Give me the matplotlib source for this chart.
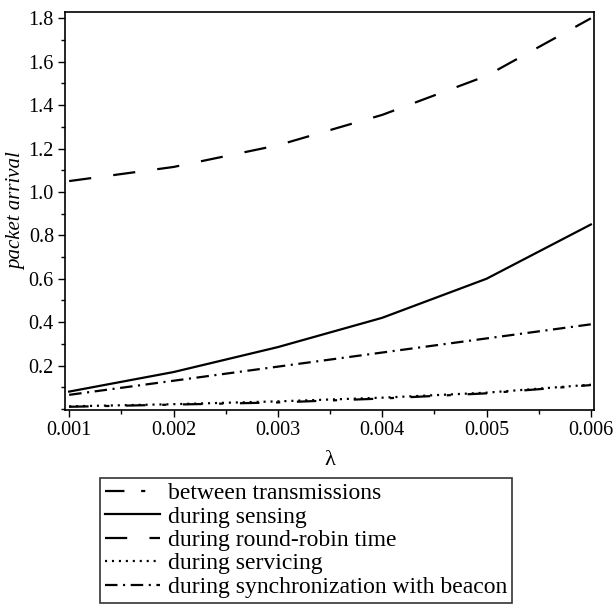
import matplotlib.pyplot as plt
from matplotlib.ticker import MultipleLocator

plt.rcParams['font.family'] = ['Liberation Serif', 'DejaVu Serif']
plt.rcParams['lines.scale_dashes'] = False

# arrival rate
lam = [0.001, 0.002, 0.003, 0.004, 0.005, 0.006]

# packet arrival for each period
between_tx = [0.010, 0.020, 0.030, 0.048, 0.072, 0.110]
sensing = [0.080, 0.170, 0.285, 0.420, 0.600, 0.850]
round_robin = [1.050, 1.115, 1.215, 1.355, 1.535, 1.800]
servicing = [0.012, 0.022, 0.035, 0.052, 0.075, 0.112]
sync_beacon = [0.065, 0.130, 0.195, 0.260, 0.325, 0.390]

labels = ['between transmissions', 'during sensing', 'during round-robin time',
          'during servicing', 'during synchronization with beacon']

fig = plt.figure(figsize=(6.16, 6.12), dpi=100)
ax = fig.add_axes([0.1055, 0.330, 0.8588, 0.650])

lw = 1.6
ax.plot(lam, between_tx, color='black', lw=lw, dashes=[14, 12, 3, 12], label=labels[0])
ax.plot(lam, sensing, color='black', lw=lw, label=labels[1])
ax.plot(lam, round_robin, color='black', lw=lw, dashes=[16, 16], label=labels[2])
ax.plot(lam, servicing, color='black', lw=lw, dashes=[1.5, 3.5], label=labels[3])
ax.plot(lam, sync_beacon, color='black', lw=lw, dashes=[9, 4, 1.5, 4], label=labels[4])

ax.set_xlim(0.00096, 0.00603)
ax.set_ylim(-0.005, 1.828)
ax.set_xticks(lam)
ax.set_xticklabels(['0.001', '0.002', '0.003', '0.004', '0.005', '0.006'])
ax.set_yticks([0.2, 0.4, 0.6, 0.8, 1.0, 1.2, 1.4, 1.6, 1.8])
ax.xaxis.set_minor_locator(MultipleLocator(0.0005))
ax.yaxis.set_minor_locator(MultipleLocator(0.1))
ax.tick_params(which='major', direction='out', length=5, width=1, labelsize=14.5, pad=3)
ax.tick_params(which='minor', direction='out', length=3, width=1)
for s in ax.spines.values():
    s.set_linewidth(1.2)

ax.set_xlabel('λ', fontsize=16, labelpad=8)
ax.set_ylabel('packet arrival', fontsize=15, style='italic', labelpad=2)

leg = fig.legend(loc='upper left', bbox_to_anchor=(100 / 616, 1 - 478 / 612),
                 fontsize=17, frameon=True, fancybox=False, edgecolor='black',
                 handlelength=2.35, handletextpad=0.34, labelspacing=0.08,
                 borderpad=0.2, borderaxespad=0)
leg.get_frame().set_linewidth(1.2)

plt.savefig('out.png', dpi=100)
